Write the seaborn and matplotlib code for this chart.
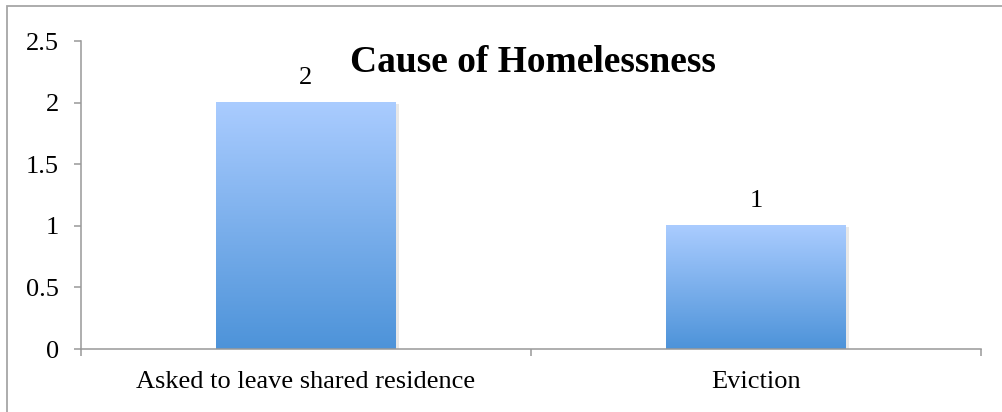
import numpy as np
import matplotlib
matplotlib.use("Agg")
import matplotlib.pyplot as plt
import seaborn as sns
from matplotlib.colors import LinearSegmentedColormap
from matplotlib.patches import Rectangle

causes = ["Asked to leave shared residence", "Eviction"]
counts = [2, 1]
y_ticks = [0, 0.5, 1, 1.5, 2, 2.5]
y_labels = ["0", "0.5", "1", "1.5", "2", "2.5"]

sns.set_style("white")
plt.rcParams["font.family"] = ["Liberation Serif", "DejaVu Serif"]
plt.rcParams["text.color"] = "black"
plt.rcParams["xtick.labelcolor"] = "black"
plt.rcParams["ytick.labelcolor"] = "black"

W, H = 1003, 412
fig = plt.figure(figsize=(W / 100, H / 100), dpi=100)
ax = fig.add_axes([81 / W, (H - 349) / H, 900 / W, 308 / H])

sns.barplot(x=causes, y=counts, ax=ax, width=0.4, color="#7fb0ea", saturation=1)

# Excel-like vertical gradient in each bar
grad = LinearSegmentedColormap.from_list("bar", ["#4d93d9", "#aaccff"])
gimg = np.linspace(0, 1, 256).reshape(-1, 1)
for p in list(ax.patches):
    x0, y0 = p.get_x(), p.get_y()
    w, h = p.get_width(), p.get_height()
    # soft shadow
    ax.add_patch(Rectangle((x0 + 0.006, y0), w, h - 0.012, facecolor="#e8e8e8",
                           edgecolor="none", zorder=1.5))
    p.set_alpha(0)
    ax.imshow(gimg, cmap=grad, origin="lower", aspect="auto",
              extent=[x0, x0 + w, y0, y0 + h], zorder=2)
    ax.text(x0 + w / 2, h + 0.2, f"{h:g}", ha="center", va="center",
            fontsize=19, color="black")

ax.set_xlim(-0.5, 1.5)
ax.set_ylim(0, 2.5)
ax.set_yticks(y_ticks)
ax.set_yticklabels(y_labels)

for side in ["top", "right"]:
    ax.spines[side].set_visible(False)
for side in ["left", "bottom"]:
    ax.spines[side].set_color("#999999")
    ax.spines[side].set_linewidth(1.1)

ax.tick_params(axis="y", direction="out", length=5, width=1.1, color="#999999",
               labelsize=19, pad=11, left=True, labelcolor="black")
ax.tick_params(axis="x", which="major", length=0, labelsize=19, pad=16,
               labelcolor="black")
ax.set_xticks([-0.5, 0.5, 1.5], minor=True)
ax.tick_params(axis="x", which="minor", direction="out", length=5, width=1.1,
               color="#999999", bottom=True)

ax.text(0.502, 0.93, "Cause of Homelessness", transform=ax.transAxes,
        ha="center", va="center", fontsize=27, fontweight="bold", color="black")

# outer chart border
fig.add_artist(Rectangle((7 / W, -0.1), 1.2, (H - 6) / H + 0.1,
                         transform=fig.transFigure, fill=False,
                         edgecolor="#a6a6a6", linewidth=1.3))

fig.savefig("out.png", dpi=100)
